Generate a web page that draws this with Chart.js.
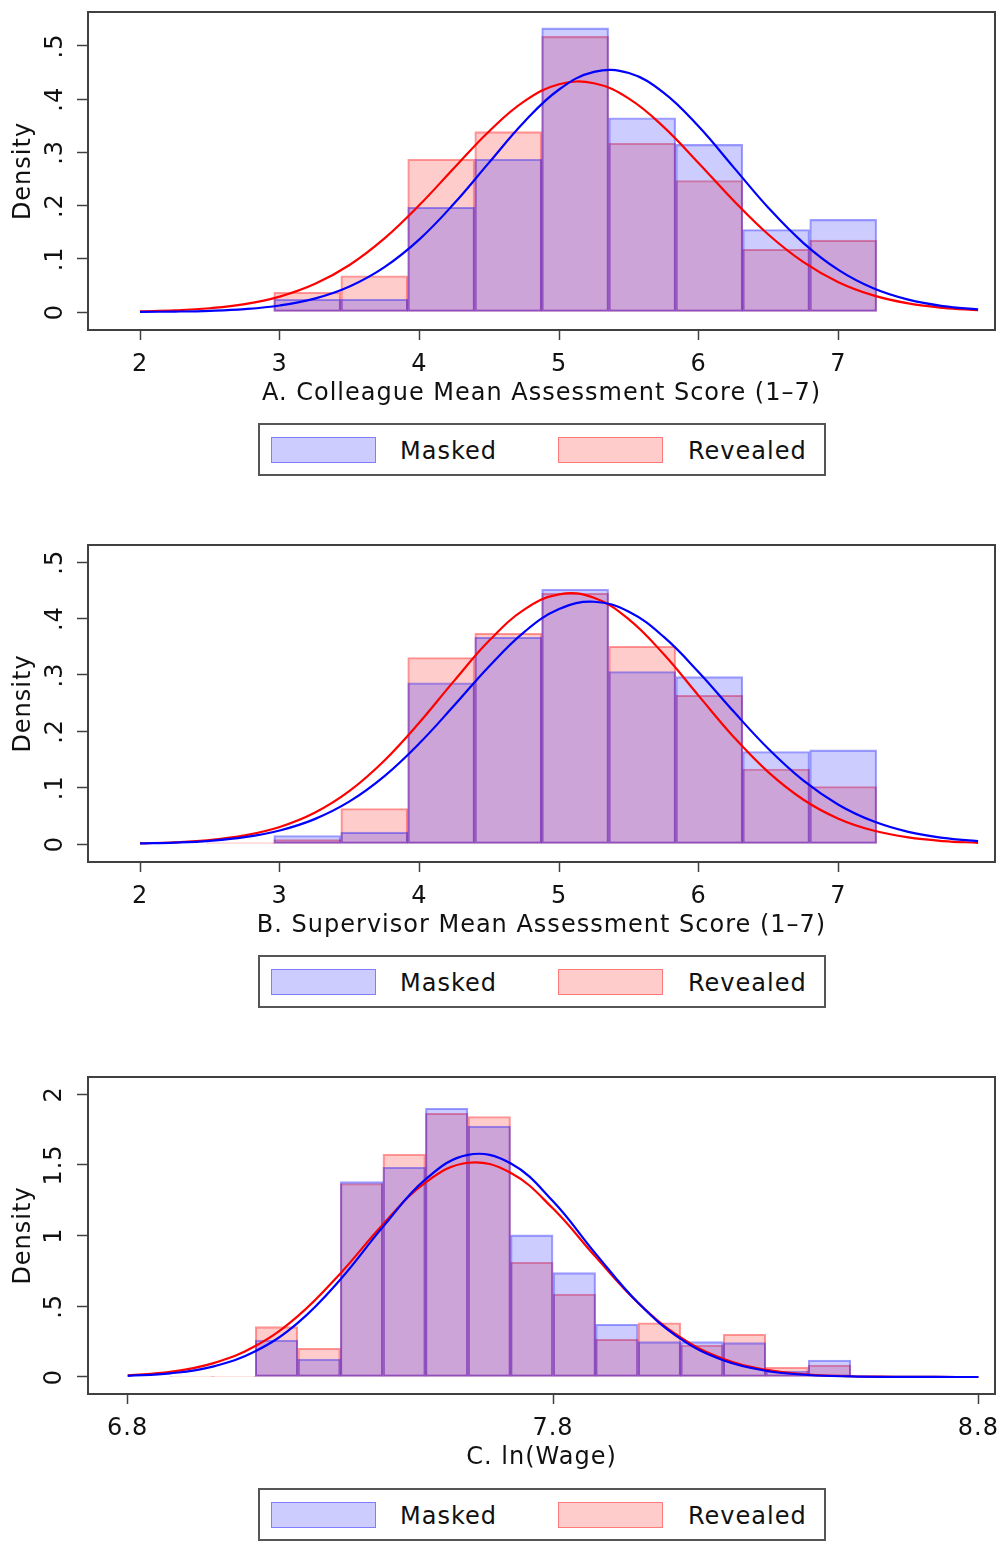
<!DOCTYPE html>
<html>
<head>
<meta charset="utf-8">
<script src="https://cdn.jsdelivr.net/npm/chart.js@4.4.1/dist/chart.umd.min.js"></script>
<style>
  html, body { margin: 0; padding: 0; background: #fff; }
  body { position: relative; width: 1001px; height: 1550px; overflow: hidden; font-family: "DejaVu Sans", "Liberation Sans", Arial, sans-serif; }
  canvas { position: absolute; left: 0; }
  .legend { position: absolute; left: 258px; width: 568px; height: 53px; box-sizing: border-box; border: 2px solid #555; background: #fff; }
  .legend .sw { position: absolute; top: 12px; width: 105px; height: 26px; box-sizing: border-box; }
  .legend .lab { position: absolute; top: 6px; line-height: 40px; font-size: 24px; letter-spacing: 1px; color: #111; white-space: nowrap; }
</style>
</head>
<body>
<canvas id="cA" width="1001" height="410" style="top:0px"></canvas>
<div class="legend" id="legA" style="top:423px"></div>
<canvas id="cB" width="1001" height="409" style="top:533px"></canvas>
<div class="legend" id="legB" style="top:955px"></div>
<canvas id="cC" width="1001" height="409" style="top:1065px"></canvas>
<div class="legend" id="legC" style="top:1488px"></div>

<script>
// ---------------- data ----------------
const seriesNames = ['Masked', 'Revealed'];
const xTitles = ['A. Colleague Mean Assessment Score (1\u20137)', 'B. Supervisor Mean Assessment Score (1\u20137)', 'C. ln(Wage)'];
const yTitle = 'Density';

const xTicksAB = [2, 3, 4, 5, 6, 7];
const xTickLabelsAB = ['2', '3', '4', '5', '6', '7'];
const xTicksC = [6.8, 7.8, 8.8];
const xTickLabelsC = ['6.8', '7.8', '8.8'];
const yTicksAB = [0, 0.1, 0.2, 0.3, 0.4, 0.5];
const yTickLabelsAB = ['0', '.1', '.2', '.3', '.4', '.5'];
const yTicksC = [0, 0.5, 1, 1.5, 2];
const yTickLabelsC = ['0', '.5', '1', '1.5', '2'];

// Panel A histogram (bin centres, densities)
const binsA = [3.197, 3.677, 4.156, 4.636, 5.115, 5.595, 6.075, 6.554, 7.034];
const maskedA = [0.024, 0.024, 0.197, 0.287, 0.534, 0.365, 0.315, 0.155, 0.174];
const revealedA = [0.037, 0.068, 0.287, 0.339, 0.518, 0.317, 0.247, 0.118, 0.135];

// Panel B histogram
const binsB = [2.717, 3.197, 3.677, 4.156, 4.636, 5.115, 5.595, 6.075, 6.554, 7.034];
const maskedB = [null, 0.015, 0.021, 0.286, 0.367, 0.452, 0.306, 0.297, 0.164, 0.167];
const revealedB = [0.002, 0.008, 0.063, 0.331, 0.374, 0.445, 0.351, 0.264, 0.133, 0.102];

// Panel C histogram
const binsC = [6.95, 7.05, 7.15, 7.25, 7.35, 7.45, 7.55, 7.65, 7.75, 7.85, 7.95, 8.05, 8.15, 8.25, 8.35, 8.45];
const maskedC = [null, null, 0.262, 0.127, 1.382, 1.483, 1.901, 1.776, 1.005, 0.738, 0.373, 0.250, 0.250, 0.243, 0.042, 0.120];
const revealedC = [0.005, 0.005, 0.356, 0.203, 1.368, 1.575, 1.866, 1.842, 0.811, 0.587, 0.267, 0.384, 0.226, 0.302, 0.068, 0.085];

// Normal density overlays
const curveXAB = [2, 2.25, 2.5, 2.75, 3, 3.25, 3.5, 3.75, 4, 4.25, 4.5, 4.75, 5, 5.25, 5.5, 5.75, 6, 6.25, 6.5, 6.75, 7, 7.25, 7.5, 7.75, 8];
const maskedCurveA = [0.0003, 0.0008, 0.0022, 0.0054, 0.0122, 0.0252, 0.048, 0.0844, 0.1366, 0.2043, 0.2812, 0.3572, 0.4182, 0.4514, 0.4492, 0.4121, 0.3486, 0.2719, 0.1955, 0.1296, 0.0792, 0.0446, 0.0232, 0.0111, 0.0049];
const revealedCurveA = [0.0013, 0.0031, 0.0071, 0.0148, 0.029, 0.0525, 0.0884, 0.1383, 0.201, 0.2712, 0.3399, 0.3958, 0.428, 0.4299, 0.4011, 0.3476, 0.2797, 0.2091, 0.1452, 0.0937, 0.0561, 0.0312, 0.0161, 0.0077, 0.0035];
const maskedCurveB = [0.001, 0.0025, 0.0057, 0.0121, 0.024, 0.0442, 0.0756, 0.1205, 0.1787, 0.2462, 0.3156, 0.3762, 0.417, 0.43, 0.4122, 0.3675, 0.3048, 0.235, 0.1686, 0.1124, 0.0698, 0.0403, 0.0216, 0.0108, 0.005];
const revealedCurveB = [0.0012, 0.0031, 0.0071, 0.0153, 0.0303, 0.0555, 0.0943, 0.1483, 0.2156, 0.29, 0.3611, 0.4159, 0.4432, 0.4371, 0.3988, 0.3367, 0.263, 0.1901, 0.1271, 0.0786, 0.045, 0.0239, 0.0117, 0.0053, 0.0022];
const curveXC = [6.8, 6.9, 7.0, 7.1, 7.2, 7.3, 7.4, 7.5, 7.6, 7.7, 7.8, 7.9, 8.0, 8.1, 8.2, 8.3, 8.4, 8.5, 8.6, 8.7, 8.8];
const maskedCurveC = [0.0076, 0.0256, 0.0738, 0.182, 0.3833, 0.69, 1.062, 1.398, 1.572, 1.512, 1.243, 0.873, 0.5246, 0.2694, 0.1182, 0.0444, 0.0142, 0.0039, 0.0009, 0.0002, 0];
const revealedCurveC = [0.012, 0.0366, 0.0961, 0.2187, 0.4305, 0.733, 1.0797, 1.3756, 1.5158, 1.445, 1.1915, 0.85, 0.5244, 0.28, 0.1293, 0.0516, 0.0178, 0.0053, 0.0014, 0.0003, 0.0001];

// ---------------- styles ----------------
const FONT_FAMILY = '"DejaVu Sans", "Liberation Sans", Arial, sans-serif';
const TEXT_COLOR = '#111';
const AXIS_COLOR = '#404040';
const blueFill = 'rgba(0,0,255,0.2)';
const blueEdge = 'rgba(0,0,255,0.38)';
const redFill = 'rgba(255,0,0,0.2)';
const redEdge = 'rgba(255,0,0,0.4)';
const seriesFill = [blueFill, redFill];
const seriesEdge = [blueEdge, redEdge];

Chart.defaults.font.family = FONT_FAMILY;
Chart.defaults.color = TEXT_COLOR;

const pts = (xs, ys) => xs.map((x, i) => ({ x: x, y: ys[i] })).filter(p => p.y !== null);

const framePlugin = {
  id: 'frame',
  beforeUpdate(chart) { chart.ctx.letterSpacing = '1px'; },
  beforeDraw(chart) { chart.ctx.letterSpacing = '1px'; },
  afterDraw(chart) {
    const a = chart.chartArea, ctx = chart.ctx;
    ctx.save();
    ctx.strokeStyle = AXIS_COLOR;
    ctx.lineWidth = 2;
    ctx.strokeRect(a.left, a.top, a.right - a.left, a.bottom - a.top);
    ctx.restore();
  }
};

const noPad = s => { s.paddingTop = 0; s.paddingBottom = 0; s.paddingLeft = 0; s.paddingRight = 0; };

function makePanel(id, cfg) {
  const font = { family: FONT_FAMILY, size: 24 };
  return new Chart(document.getElementById(id), {
    type: 'bar',
    data: {
      datasets: [
        { type: 'line', label: seriesNames[0] + ' normal', data: pts(cfg.curveX, cfg.maskedCurve), borderColor: '#0000ff', borderWidth: 2.2, pointRadius: 0, tension: 0.4, fill: false, order: 0 },
        { type: 'line', label: seriesNames[1] + ' normal', data: pts(cfg.curveX, cfg.revealedCurve), borderColor: '#ff0000', borderWidth: 2.2, pointRadius: 0, tension: 0.4, fill: false, order: 1 },
        { type: 'bar', label: seriesNames[0], data: pts(cfg.bins, cfg.masked), backgroundColor: blueFill, borderColor: blueEdge, borderWidth: 1.4, borderSkipped: false, barPercentage: 1, categoryPercentage: 1, grouped: false, order: 2 },
        { type: 'bar', label: seriesNames[1], data: pts(cfg.bins, cfg.revealed), backgroundColor: redFill, borderColor: redEdge, borderWidth: 1.4, borderSkipped: false, barPercentage: 1, categoryPercentage: 1, grouped: false, order: 3 }
      ]
    },
    options: {
      responsive: false,
      animation: false,
      devicePixelRatio: 1,
      layout: { padding: { top: 12, right: 6, bottom: 0, left: 0 } },
      plugins: { legend: { display: false }, tooltip: { enabled: false } },
      scales: {
        x: {
          type: 'linear', min: cfg.xMin, max: cfg.xMax, offset: false,
          grid: { display: true, drawOnChartArea: false, drawTicks: true, tickLength: 10, tickWidth: 1.5, tickColor: AXIS_COLOR, offset: false },
          border: { display: false },
          afterBuildTicks: s => { s.ticks = cfg.xTicks.map(v => ({ value: v })); },
          afterFit: s => { s.height = 80; noPad(s); },
          ticks: { autoSkip: false, maxRotation: 0, padding: 10, font: font, color: TEXT_COLOR, callback: (v, i) => cfg.xTickLabels[i] },
          title: { display: true, text: cfg.xTitle, font: font, color: TEXT_COLOR, padding: { top: 0, bottom: 2 } }
        },
        y: {
          type: 'linear', min: cfg.yMin, max: cfg.yMax,
          grid: { display: true, drawOnChartArea: false, drawTicks: true, tickLength: 11, tickWidth: 1.5, tickColor: AXIS_COLOR },
          border: { display: false },
          afterBuildTicks: s => { s.ticks = cfg.yTicks.map(v => ({ value: v })); },
          afterFit: s => { s.width = 88; noPad(s); },
          ticks: { autoSkip: false, minRotation: 90, maxRotation: 90, crossAlign: 'center', padding: cfg.yPad, font: font, color: TEXT_COLOR, callback: (v, i) => cfg.yTickLabels[i] },
          title: { display: true, text: yTitle, font: font, color: TEXT_COLOR, padding: { top: 9, bottom: 0 } }
        }
      }
    },
    plugins: [framePlugin]
  });
}

function makeLegend(id) {
  const el = document.getElementById(id);
  const swX = [11, 298], labX = [140, 428];
  seriesNames.forEach((name, i) => {
    const sw = document.createElement('div');
    sw.className = 'sw';
    sw.style.left = swX[i] + 'px';
    sw.style.background = seriesFill[i];
    sw.style.border = '1.5px solid ' + seriesEdge[i];
    el.appendChild(sw);
    const lab = document.createElement('span');
    lab.className = 'lab';
    lab.style.left = labX[i] + 'px';
    lab.textContent = name;
    el.appendChild(lab);
  });
}

makePanel('cA', { bins: binsA, masked: maskedA, revealed: revealedA, curveX: curveXAB, maskedCurve: maskedCurveA, revealedCurve: revealedCurveA,
  xMin: 1.6275, xMax: 8.121, yMin: -0.0338, yMax: 0.5639, xTicks: xTicksAB, xTickLabels: xTickLabelsAB, yTicks: yTicksAB, yTickLabels: yTickLabelsAB, yPad: 9, xTitle: xTitles[0] });
makePanel('cB', { bins: binsB, masked: maskedB, revealed: revealedB, curveX: curveXAB, maskedCurve: maskedCurveB, revealedCurve: revealedCurveB,
  xMin: 1.6275, xMax: 8.121, yMin: -0.0319, yMax: 0.5307, xTicks: xTicksAB, xTickLabels: xTickLabelsAB, yTicks: yTicksAB, yTickLabels: yTickLabelsAB, yPad: 9, xTitle: xTitles[1] });
makePanel('cC', { bins: binsC, masked: maskedC, revealed: revealedC, curveX: curveXC, maskedCurve: maskedCurveC, revealedCurve: revealedCurveC,
  xMin: 6.7067, xMax: 8.839, yMin: -0.1203, yMax: 2.1224, xTicks: xTicksC, xTickLabels: xTickLabelsC, yTicks: yTicksC, yTickLabels: yTickLabelsC, yPad: 1.5, xTitle: xTitles[2] });
makeLegend('legA');
makeLegend('legB');
makeLegend('legC');
</script>
</body>
</html>
